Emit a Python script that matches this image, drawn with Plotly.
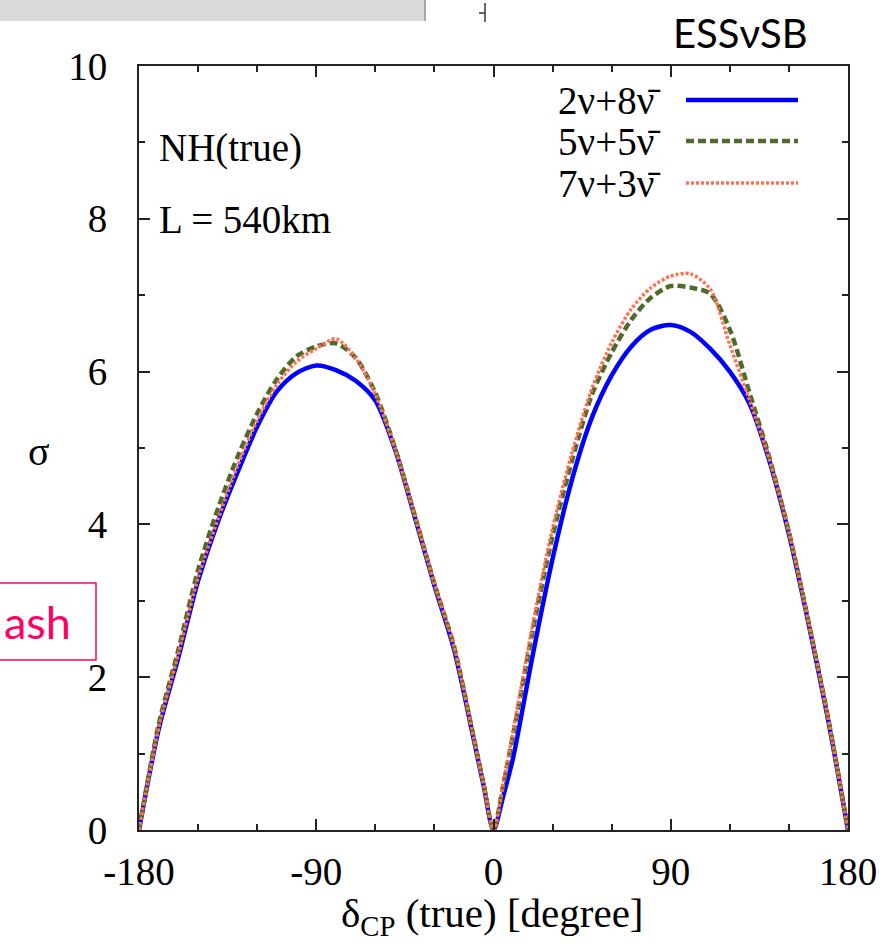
import plotly.graph_objects as go

# ---------------- data ----------------
delta_cp = [-180, -170, -160, -150, -140, -130, -120, -110, -100, -90, -80, -70, -60, -50, -40, -30, -20, -10, -5, 0,
            5, 10, 20, 30, 40, 50, 60, 70, 80, 90, 100, 110, 120, 130, 140, 150, 160, 170, 180]

sigma_2nu8nubar = [0, 1.32, 2.26, 3.26, 4.03, 4.68, 5.28, 5.74, 5.98, 6.08, 6.02, 5.88, 5.62, 4.98, 4.10, 3.20, 2.36, 1.18, 0.58, 0,
                   0.45, 0.95, 2.30, 3.55, 4.60, 5.40, 5.95, 6.33, 6.55, 6.61, 6.52, 6.30, 6.00, 5.58, 4.84, 3.87, 2.70, 1.43, 0]

sigma_5nu5nubar = [0, 1.38, 2.36, 3.40, 4.20, 4.88, 5.45, 5.90, 6.20, 6.33, 6.37, 6.18, 5.72, 5.00, 4.12, 3.22, 2.40, 1.20, 0.60, 0,
                   0.60, 1.25, 2.62, 3.85, 4.85, 5.70, 6.25, 6.68, 6.97, 7.12, 7.10, 7.02, 6.55, 5.72, 4.88, 3.90, 2.72, 1.45, 0]

sigma_7nu3nubar = [0, 1.34, 2.30, 3.30, 4.06, 4.76, 5.36, 5.83, 6.13, 6.30, 6.43, 6.18, 5.70, 4.99, 4.12, 3.22, 2.40, 1.20, 0.60, 0,
                   0.62, 1.30, 2.70, 3.95, 4.95, 5.78, 6.38, 6.82, 7.10, 7.25, 7.28, 7.08, 6.35, 5.62, 4.86, 3.90, 2.72, 1.45, 0]

series_names = ["2\u03bd+8\u03bd\u0304", "5\u03bd+5\u03bd\u0304", "7\u03bd+3\u03bd\u0304"]
series_values = [sigma_2nu8nubar, sigma_5nu5nubar, sigma_7nu3nubar]

x_tick_vals = [-180, -90, 0, 90, 180]
x_tick_text = ["-180", "-90", "0", "90", "180"]
y_tick_vals = [0, 2, 4, 6, 8, 10]
y_tick_text = ["0", "2", "4", "6", "8", "10"]

# ---------------- styles ----------------
colors = ["#0000ff", "#4f6b2a", "#ff7050"]
dashes = ["solid", "8px,4px", "3px,2px"]
widths = [4.5, 4.5, 3.5]

W, H = 889, 947
L, R, T, B = 139, 41, 66, 117
pw, ph = W - L - R, H - T - B


def px(xp):
    return (xp - L) / pw


def py(yp):
    return (H - B - yp) / ph


SERIF = "Liberation Serif"
SANS = "Lato"
FS = 39

fig = go.Figure()
for name, vals, c, d, w in zip(series_names, series_values, colors, dashes, widths):
    fig.add_trace(go.Scatter(x=delta_cp, y=vals, mode="lines", name=name,
                             line=dict(color=c, dash=d, width=w, shape="spline", smoothing=0.8)))

shapes = []
annotations = []

# custom gnuplot-style legend (text left, sample right)
leg_y = [100, 141, 183]
for name, c, d, w, yy in zip(series_names, colors, dashes, widths, leg_y):
    annotations.append(dict(x=px(662), y=py(yy), xref="paper", yref="paper", text=name,
                            showarrow=False, xanchor="right", yanchor="middle",
                            font=dict(family=SERIF, size=FS, color="black")))
    shapes.append(dict(type="line", xref="paper", yref="paper", x0=px(686), x1=px(798),
                       y0=py(yy), y1=py(yy), line=dict(color=c, dash=d, width=w)))

annotations += [
    dict(x=px(157), y=py(148), xref="paper", yref="paper", text="NH(true)", showarrow=False,
         xanchor="left", yanchor="middle", font=dict(family=SERIF, size=FS, color="black")),
    dict(x=px(157), y=py(220), xref="paper", yref="paper", text="L = 540km", showarrow=False,
         xanchor="left", yanchor="middle", font=dict(family=SERIF, size=FS, color="black")),
    dict(x=px(39), y=py(452), xref="paper", yref="paper", text="\u03c3", showarrow=False,
         xanchor="center", yanchor="middle", font=dict(family=SERIF, size=40, color="black")),
    dict(x=px(740), y=py(33), xref="paper", yref="paper", text="ESS\u03bdSB", showarrow=False,
         xanchor="center", yanchor="middle", font=dict(family=SANS, size=40, color="black")),
    dict(x=px(492), y=py(916), xref="paper", yref="paper",
         text="\u03b4<sub>CP</sub> (true) [degree]", showarrow=False,
         xanchor="center", yanchor="middle", font=dict(family=SERIF, size=41, color="black")),
    dict(x=px(2), y=py(622), xref="paper", yref="paper", text="ash", showarrow=False,
         xanchor="left", yanchor="middle", font=dict(family=SANS, size=45, color="#ff0066")),
]

# slide decorations: grey box top-left, small bracket mark, pink box
shapes += [
    dict(type="rect", xref="paper", yref="paper", x0=px(-10), x1=px(425), y0=py(21), y1=py(-10),
         fillcolor="#d9d9d9", line=dict(width=0), layer="above"),
    dict(type="line", xref="paper", yref="paper", x0=px(425), x1=px(425), y0=py(21), y1=py(-2),
         line=dict(color="#a6a6a6", width=2)),
    dict(type="line", xref="paper", yref="paper", x0=px(485), x1=px(485), y0=py(3), y1=py(22),
         line=dict(color="#333333", width=1.5)),
    dict(type="line", xref="paper", yref="paper", x0=px(479), x1=px(485), y0=py(13), y1=py(13),
         line=dict(color="#333333", width=1.5)),
    dict(type="rect", xref="paper", yref="paper", x0=px(-10), x1=px(96), y0=py(660), y1=py(583),
         line=dict(color="#ff0066", width=1.5), fillcolor="rgba(0,0,0,0)"),
]

axis_common = dict(showline=True, linecolor="#222222", linewidth=2, mirror="ticks",
                   ticks="inside", ticklen=11, tickwidth=1.5, tickcolor="#222222",
                   showgrid=False, zeroline=False,
                   tickfont=dict(family=SERIF, size=FS, color="black"))

fig.update_layout(
    width=W, height=H,
    margin=dict(l=L, r=R, t=T, b=B),
    paper_bgcolor="white", plot_bgcolor="white",
    showlegend=False,
    font=dict(family=SERIF, size=FS, color="black"),
    xaxis=dict(range=[-180, 180], tickmode="array", tickvals=x_tick_vals, ticktext=x_tick_text,
               minor=dict(dtick=30, tick0=0, ticks="inside", ticklen=6, tickwidth=1.5, tickcolor="#222222"),
               ticklabelstandoff=6, **axis_common),
    yaxis=dict(range=[0, 10], tickmode="array", tickvals=y_tick_vals, ticktext=y_tick_text,
               minor=dict(dtick=1, tick0=0, ticks="inside", ticklen=6, tickwidth=1.5, tickcolor="#222222"),
               ticklabelstandoff=22, **axis_common),
    shapes=shapes,
    annotations=annotations,
)

fig.write_html("out.html")
